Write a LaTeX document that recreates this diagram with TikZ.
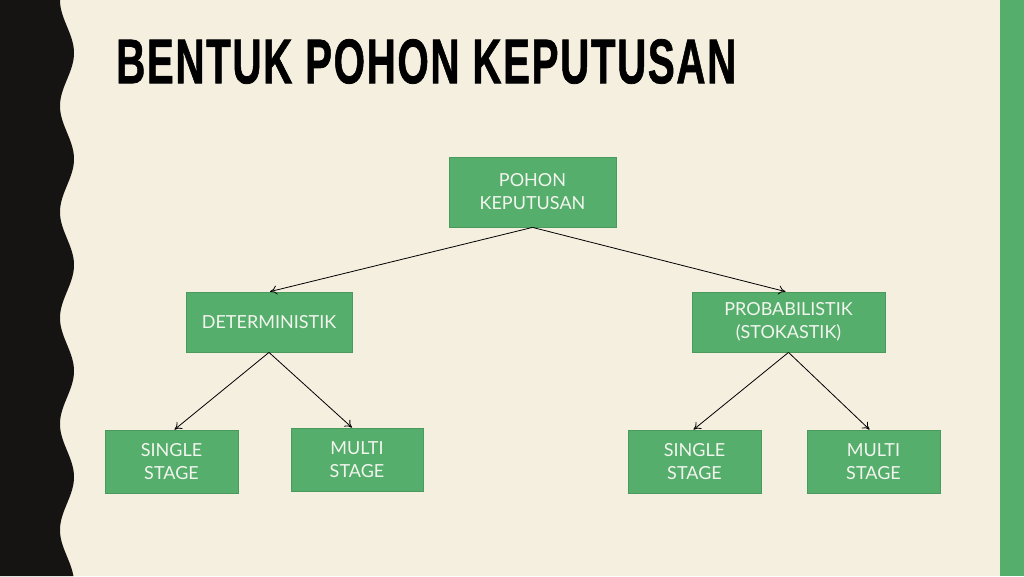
\documentclass[tikz,border=0pt]{standalone}
\usepackage{fontspec}
\setmainfont{Lato}
\newfontfamily\titlefont[FakeBold=1.2,LetterSpace=4]{Liberation Sans}
\usetikzlibrary{arrows.meta}
\definecolor{bg}{HTML}{F5EFE0}
\definecolor{boxgreen}{HTML}{56AE6C}
\definecolor{boxedge}{HTML}{4A9A5E}
\definecolor{darkside}{HTML}{161413}
\definecolor{boxtext}{HTML}{F2F5EE}
\tikzset{
  box/.style={draw=boxedge, line width=0.8pt, fill=boxgreen, text=boxtext, align=center,
    font=\fontsize{18}{23}\selectfont, inner sep=0pt},
  link/.style={-{To[length=7pt,width=9pt]}, line width=0.8pt, black}
}
\begin{document}
\begin{tikzpicture}[x=1pt,y=-1pt]
\useasboundingbox (0,0) rectangle (1024,576);
\fill[bg] (0,0) rectangle (1024,576);
\fill[darkside] (0,0) -- plot[domain=0:576, samples=200, smooth] ({67-7*cos(\x/106*360)},\x) -- (0,576) -- cycle;
\fill[boxgreen] (1000,0) rectangle (1024,576);
\node[anchor=south west, inner sep=0pt] (title) at (116,84) {\resizebox{620pt}{44pt}{\titlefont\bfseries BENTUK POHON KEPUTUSAN}};

\node[box, minimum width=167pt, minimum height=70pt] (root) at (532.5,192) {POHON\\KEPUTUSAN};
\node[box, minimum width=166pt, minimum height=60pt] (det) at (269,322) {DETERMINISTIK};
\node[box, minimum width=193pt, minimum height=60pt] (prob) at (788.5,322) {PROBABILISTIK\\(STOKASTIK)};
\node[box, minimum width=133pt, minimum height=63pt] (s1) at (171.5,461.5) {SINGLE\\STAGE};
\node[box, minimum width=132pt, minimum height=63pt] (m1) at (357,459.5) {MULTI\\STAGE};
\node[box, minimum width=133pt, minimum height=63pt] (s2) at (694.5,461.5) {SINGLE\\STAGE};
\node[box, minimum width=133pt, minimum height=63pt] (m2) at (873.5,461.5) {MULTI\\STAGE};

\draw[link] (root.south) -- ([xshift=1pt]det.north);
\draw[link] (root.south) -- ([xshift=-3pt]prob.north);
\draw[link] (det.south) -- ([xshift=3pt]s1.north);
\draw[link] (det.south) -- ([xshift=-5pt]m1.north);
\draw[link] (prob.south) -- ([xshift=-1pt]s2.north);
\draw[link] (prob.south) -- ([xshift=-4pt]m2.north);
\end{tikzpicture}
\end{document}
